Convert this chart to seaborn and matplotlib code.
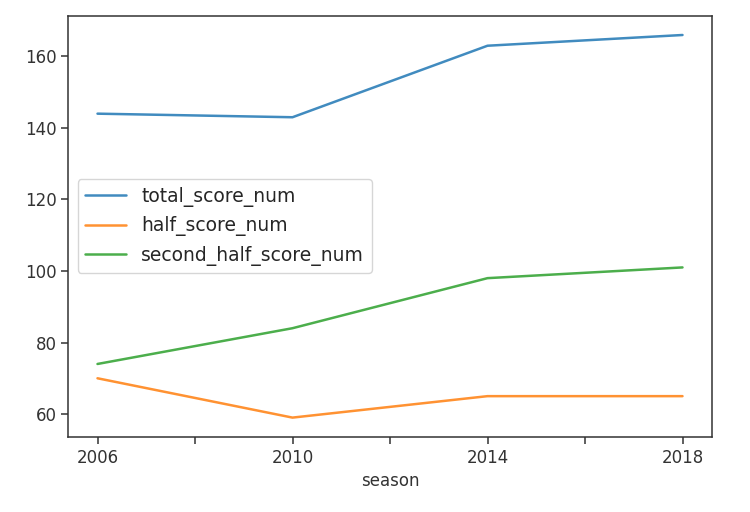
import matplotlib
matplotlib.use("Agg")
import matplotlib.pyplot as plt
import seaborn as sns
import pandas as pd

season = [2006, 2010, 2014, 2018]
total_score_num = [144, 143, 163, 166]
half_score_num = [70, 59, 65, 65]
second_half_score_num = [74, 84, 98, 101]
xticks = [2006, 2008, 2010, 2012, 2014, 2016, 2018]
xticklabels = ["2006", "", "2010", "", "2014", "", "2018"]

df = pd.DataFrame({
    "season": season,
    "total_score_num": total_score_num,
    "half_score_num": half_score_num,
    "second_half_score_num": second_half_score_num,
})
long = df.melt(id_vars="season", var_name="series", value_name="value")

sns.set_style("ticks")
plt.rcParams["font.family"] = ["DejaVu Sans"]
fig = plt.figure(figsize=(7.5, 5.12), dpi=100)
ax = fig.add_axes([0.091, 0.147, 0.858, 0.822])
palette = ["#1f77b4", "#ff7f0e", "#2ca02c"]
sns.lineplot(data=long, x="season", y="value", hue="series", palette=palette,
             ax=ax, linewidth=1.8, alpha=0.85)
ax.set_xticks(xticks)
ax.set_xticklabels(xticklabels)
ax.set_yticks([60, 80, 100, 120, 140, 160])
ax.tick_params(labelsize=12, length=5, width=1.1, color="#333333")
ax.set_xlabel("season", fontsize=12, color="#333333")
ax.set_ylabel("")
for lbl in ax.get_xticklabels() + ax.get_yticklabels():
    lbl.set_color("#333333")
for s in ax.spines.values():
    s.set_visible(True)
    s.set_color("#333333")
    s.set_linewidth(1.1)
ax.margins(x=0.05, y=0.05)
leg = ax.legend(title=None, fontsize=13.5, loc="center left", frameon=True,
                bbox_to_anchor=(0.0, 0.5), handlelength=2.2)
leg.get_frame().set_edgecolor("#cccccc")
fig.savefig("out.png", dpi=100)
